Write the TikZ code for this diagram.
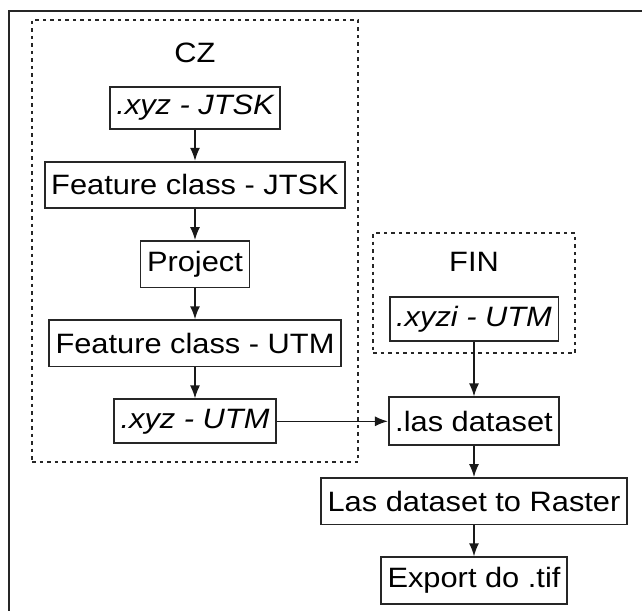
\documentclass[tikz,border=0pt]{standalone}
\usepackage{fontspec}
\setmainfont{Liberation Sans}[FakeStretch=1.1]
\usetikzlibrary{positioning, arrows.meta}
\tikzset{
  flow/.style={
	x=1pt, y=-1pt, % pixel-like units, y going down
	>={Latex[length=13pt, width=10pt]}, % filled arrow heads
	node distance=31pt, % gap between two steps
	every node/.style={font=\fontsize{28}{32}\selectfont},
  },
  stepbox/.style={draw=black!85, line width=1.7pt, inner xsep=6.5pt, minimum height=46.5pt},
  group/.style={draw=black!85, line width=1.6pt, dash pattern=on 3.5pt off 4pt},
  link/.style={->, line width=1.5pt, draw=black!90},
}

\begin{document}
\begin{tikzpicture}[flow]
\useasboundingbox (0,0) rectangle (642,610);
\draw[line width=2.6pt, black!85] (9,612) |- (644,11);
% CZ
\node[group, minimum width=326pt, minimum height=442pt] (cz) at (195,241) {};
\node (czlabel) at (195,53) {CZ};
\node[stepbox, minimum height=42pt, font=\fontsize{28}{32}\selectfont\itshape] (xyzjtsk) at (195,108) {.xyz - JTSK};
\node[stepbox, below=of xyzjtsk] (fcjtsk) {Feature class - JTSK};
\node[stepbox, below=of fcjtsk] (project) {Project};
\node[stepbox, below=of project] (fcutm) {Feature class - UTM};
\node[stepbox, minimum height=44pt, font=\fontsize{28}{32}\selectfont\itshape, below=of fcutm] (xyzutm) {.xyz - UTM};
% FIN
\node[group, minimum width=202pt, minimum height=120pt] (fin) at (474,293) {};
\node (finlabel) at (474,262) {FIN};
\node[stepbox, minimum height=44pt, font=\fontsize{28}{32}\selectfont\itshape] (xyziutm) at (474,319) {.xyzi - UTM};
% common part
\node[stepbox, minimum height=48pt] (las) at (xyzutm -| xyziutm) {.las dataset};
\node[stepbox, below=of las] (raster) {Las dataset to Raster};
\node[stepbox, below=of raster] (export) {Export do .tif};
\draw[link] (xyzjtsk) -- (fcjtsk);
\draw[link] (fcjtsk) -- (project);
\draw[link] (project) -- (fcutm);
\draw[link] (fcutm) -- (xyzutm);
\draw[link] (xyzutm) -- (las);
\draw[link] (xyziutm) -- (las);
\draw[link] (las) -- (raster);
\draw[link] (raster) -- (export);
\end{tikzpicture}
\end{document}
